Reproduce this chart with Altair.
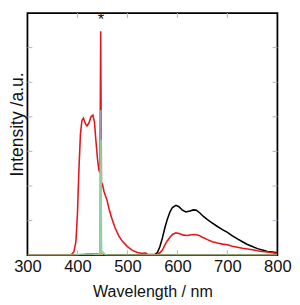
import altair as alt
import pandas as pd

# ---- data (wavelength nm, intensity a.u.) ----
red_nm = [300, 350, 385, 388, 393, 397, 400, 403, 406, 409, 412, 416, 419, 423, 427, 431, 434, 437, 440, 443, 445,
          446.5, 448, 450, 453, 456, 459, 463, 468, 475, 483, 490, 500, 510, 520, 530, 535, 540, 550, 560, 565, 570,
          575, 580, 585, 590, 597, 605, 612, 620, 628, 635, 642, 650, 660, 670, 680, 690, 700, 710, 720, 730, 740,
          750, 760, 770, 780, 790, 800]
red_v = [0.0, 0.0, 0.0, 0.02, 0.1, 0.4, 1.2, 2.5, 3.5, 3.9, 3.96, 3.8, 3.74, 3.82, 4.0, 4.05, 3.85, 3.3, 2.8, 2.45, 2.4,
         6.47, 2.1, 2.05, 1.85, 1.72, 1.6, 1.35, 1.1, 0.8, 0.55, 0.4, 0.25, 0.14, 0.08, 0.05, 0.07, 0.03, 0.02, 0.03,
         0.07, 0.15, 0.3, 0.42, 0.52, 0.6, 0.65, 0.62, 0.58, 0.57, 0.59, 0.6, 0.58, 0.52, 0.45, 0.39, 0.35, 0.32, 0.3,
         0.26, 0.23, 0.2, 0.18, 0.16, 0.13, 0.11, 0.09, 0.07, 0.05]

black_nm = [300, 400, 420, 440, 460, 500, 550, 555, 560, 565, 570, 575, 580, 585, 590, 597, 603, 610, 617, 625, 632, 638,
            645, 652, 660, 670, 680, 690, 700, 710, 720, 730, 740, 750, 760, 770, 780, 790, 800]
black_v = [0.0, 0.0, 0.03, 0.03, 0.0, 0.0, 0.0, 0.02, 0.08, 0.25, 0.5, 0.8, 1.05, 1.25, 1.38, 1.44, 1.4, 1.3, 1.25, 1.28,
           1.31, 1.3, 1.22, 1.12, 1.03, 0.93, 0.83, 0.74, 0.66, 0.56, 0.47, 0.39, 0.31, 0.25, 0.19, 0.15, 0.11, 0.09, 0.07]

violet_nm = [443, 445.5, 446.5, 447.5, 450]
violet_v = [0.0, 0.1, 4.2, 0.1, 0.0]

orange_nm = [300, 445, 446.1, 447.5, 800]
orange_v = [0.0, 0.0, 3.3, 0.0, 0.0]

teal_nm = [300, 395, 405, 430, 440, 445.5, 446.9, 448.5, 452, 455, 460, 800]
teal_v = [0.0, 0.0, 0.03, 0.03, 0.02, 0.05, 3.35, 0.1, 0.08, 0.03, 0.0, 0.0]

x_ticks = [400, 500, 600, 700]
y_ticks = [1, 2, 3, 4, 5, 6]
x_labels = [300, 400, 500, 600, 700, 800]

star_nm = [447]
star_v = [6.8]

W, H = 257, 249
FONT = "Liberation Sans"

x_scale = alt.Scale(domain=[300, 800], nice=False, zero=False)
y_scale = alt.Scale(domain=[0, 7], nice=False, zero=False)


def df(nm, v):
    return pd.DataFrame({"nm": nm, "v": v})


x_axis = alt.Axis(values=x_labels, ticks=False, domain=False, grid=False,
                  labelFont=FONT, labelFontSize=17, labelColor="#111", labelPadding=4,
                  labelFlush=False, title="Wavelength / nm", titleFont=FONT,
                  titleFontSize=16.5, titleFontWeight="normal", titleColor="#111",
                  titleY=42, titleBaseline="alphabetic")
y_axis = alt.Axis(labels=False, ticks=False, domain=False, grid=False,
                  title="Intensity /a.u.", titleFont=FONT, titleFontSize=18,
                  titleFontWeight="normal", titleColor="#111", titleAngle=270,
                  titleX=-5.5, titleY=114, titleAlign="center", titleBaseline="alphabetic")

X = lambda f: alt.X(f, scale=x_scale, axis=x_axis)
Y = lambda f: alt.Y(f, scale=y_scale, axis=y_axis)


def line(data, color, width):
    return alt.Chart(data).mark_line(color=color, strokeWidth=width, clip=True).encode(
        x=X("nm:Q"), y=Y("v:Q"))


tick_col = "#aab2c8"
xt = pd.DataFrame({"nm": x_ticks})
yt = pd.DataFrame({"v": y_ticks})
ticks_bottom = alt.Chart(xt).mark_rule(color=tick_col, strokeWidth=1).encode(
    x=X("nm:Q"), y=alt.value(H), y2=alt.value(H - 5))
ticks_top = alt.Chart(xt).mark_rule(color=tick_col, strokeWidth=1).encode(
    x=X("nm:Q"), y=alt.value(0), y2=alt.value(5))
ticks_left = alt.Chart(yt).mark_rule(color=tick_col, strokeWidth=1).encode(
    y=Y("v:Q"), x=alt.value(0), x2=alt.value(5))
ticks_right = alt.Chart(yt).mark_rule(color=tick_col, strokeWidth=1).encode(
    y=Y("v:Q"), x=alt.value(W), x2=alt.value(W - 5))

star = alt.Chart(df(star_nm, star_v)).mark_text(text="*", font=FONT, fontSize=17,
                                                  color="#111", baseline="middle").encode(
    x=X("nm:Q"), y=Y("v:Q"))

chart = alt.layer(
    ticks_bottom, ticks_top, ticks_left, ticks_right,
    line(df(black_nm, black_v), "#000000", 1.6),
    line(df(red_nm, red_v), "#e5151c", 1.6),
    line(df(violet_nm, violet_v), "#a596b8", 1.8),
    line(df(orange_nm, orange_v), "#f0a23c", 1.6),
    line(df(teal_nm, teal_v), "#8fd0a8", 1.4),
    star,
).properties(
    width=W, height=H,
    autosize=alt.AutoSizeParams(type="none"),
    padding={"left": 20, "top": 1, "right": 15, "bottom": 46},
).configure_view(stroke="#000000", strokeWidth=1.8)

chart.save("out.html", embed_options={"renderer": "svg", "actions": False})
